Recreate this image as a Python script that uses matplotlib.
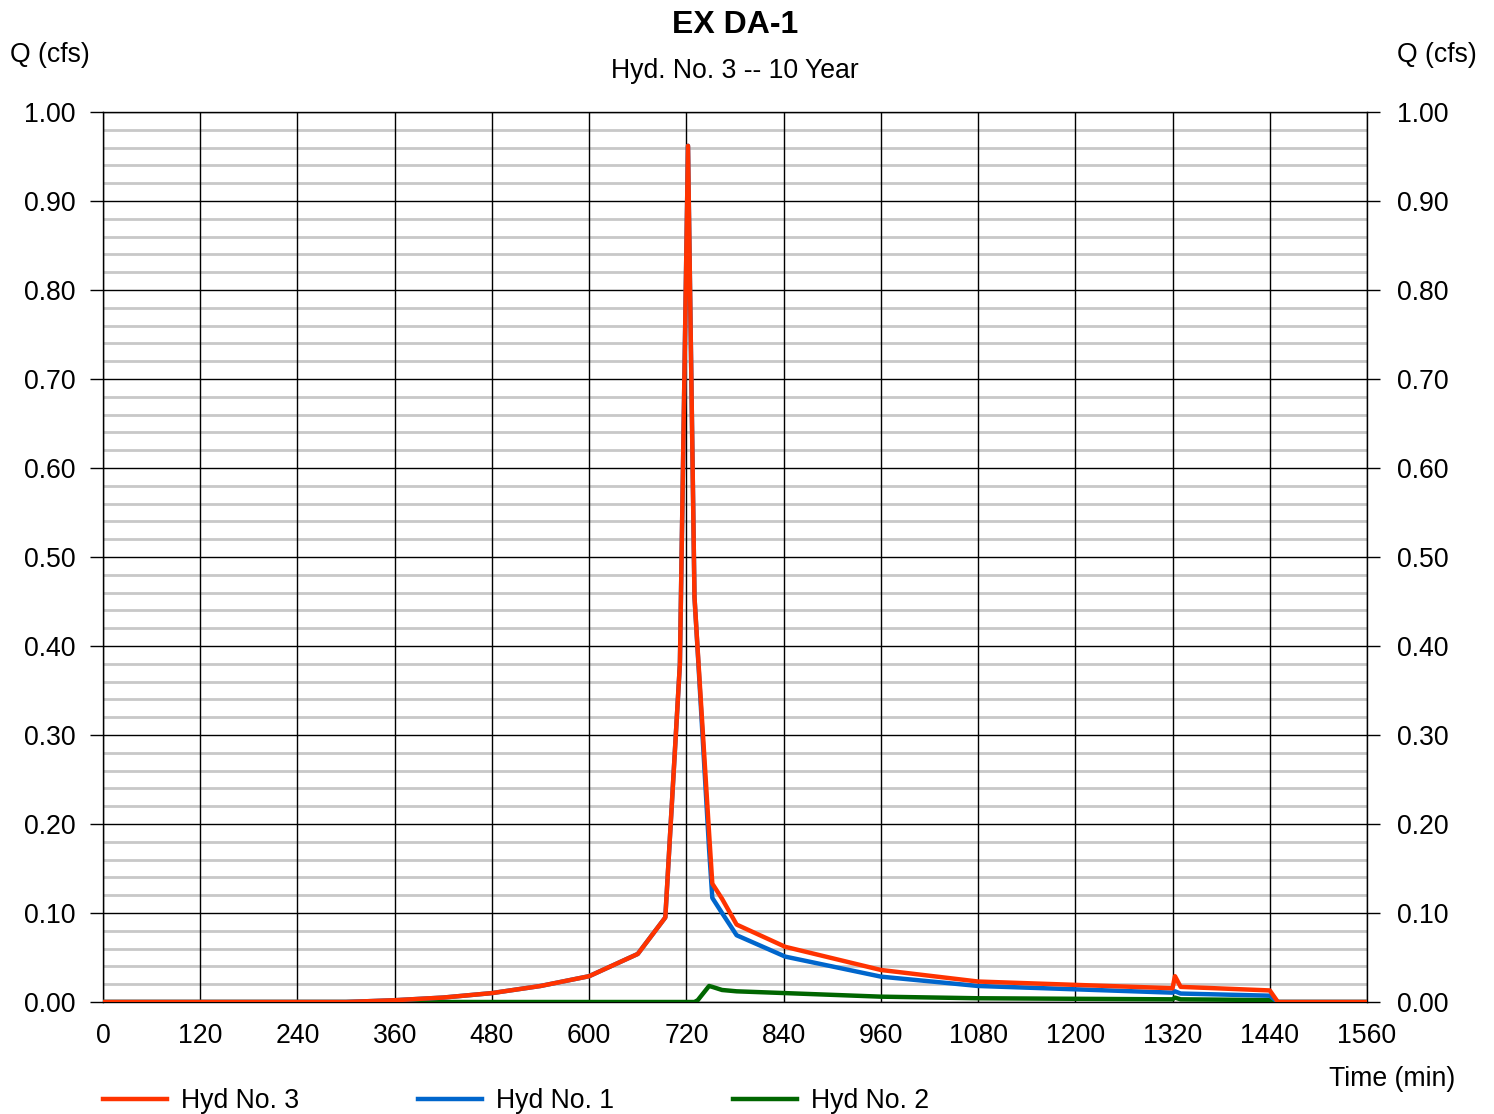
import matplotlib
matplotlib.use("Agg")
import matplotlib.pyplot as plt
from matplotlib.ticker import MultipleLocator, FormatStrFormatter

plt.rcParams['font.family'] = ['Liberation Sans', 'DejaVu Sans']

# Hydrograph ordinates (time in minutes, flow in cfs)
time_min = [0, 300, 360, 420, 480, 540, 600, 660, 694, 712, 722, 730, 734,
            748, 752, 764, 782, 842, 960, 1080, 1320, 1323, 1330, 1440, 1450, 1560]
hyd3 = [0, 0, 0.002, 0.005, 0.010, 0.018, 0.029, 0.054, 0.095, 0.380, 0.962,
        0.455, 0.395, 0.190, 0.133, 0.116, 0.087, 0.062, 0.036, 0.023, 0.0155,
        0.029, 0.017, 0.013, 0, 0]
hyd1 = [0, 0, 0.002, 0.005, 0.010, 0.018, 0.029, 0.054, 0.095, 0.380, 0.962,
        0.455, 0.393, 0.172, 0.117, 0.100, 0.075, 0.051, 0.0285, 0.018, 0.0105,
        0.012, 0.0095, 0.0071, 0, 0]
hyd2 = [0, 0, 0, 0, 0, 0, 0, 0, 0, 0, 0, 0, 0.002, 0.018, 0.017, 0.0135,
        0.012, 0.0100, 0.0060, 0.0042, 0.0030, 0.0049, 0.0030, 0.0022, 0, 0]

series_labels = ["Hyd No. 3", "Hyd No. 1", "Hyd No. 2"]
series_colors = ["#FF3300", "#0066CC", "#006600"]

x_ticks = list(range(0, 1561, 120))
title = "EX DA-1"
subtitle = "Hyd. No. 3 -- 10 Year"

FS = 19.2
W, H = 1494, 1114
fig = plt.figure(figsize=(W / 100, H / 100), dpi=100)
ax = fig.add_axes([103 / W, 1 - 1002 / H, (1367 - 103) / W, (1002 - 112) / H])

ax.set_xlim(0, 1560)
ax.set_ylim(0, 1.0)
ax.set_xticks(x_ticks)
ax.yaxis.set_major_locator(MultipleLocator(0.1))
ax.yaxis.set_minor_locator(MultipleLocator(0.02))
ax.yaxis.set_major_formatter(FormatStrFormatter('%.2f'))

# light minor lines underneath, black major grid on top of them
ax.grid(which='minor', axis='y', color='#c8c8c8', linewidth=2.0, zorder=0)
for xv in x_ticks:
    ax.axvline(xv, color='black', linewidth=1.0, zorder=1.5)
for yv in ax.get_yticks():
    if 0 <= yv <= 1.0:
        ax.axhline(yv, color='black', linewidth=1.0, zorder=1.5)
ax.set_axisbelow(True)

ax.tick_params(axis='y', which='major', length=9.5, width=1.0, pad=10,
               labelsize=FS, direction='out', colors='black')
ax.tick_params(axis='y', which='minor', length=0)
ax.tick_params(axis='x', which='major', length=0, pad=15, labelsize=FS)
for s in ax.spines.values():
    s.set_color('black')
    s.set_linewidth(1.0)

lines = {}
for t, y, lab, c, z in [(time_min, hyd2, series_labels[2], series_colors[2], 3),
                        (time_min, hyd1, series_labels[1], series_colors[1], 4),
                        (time_min, hyd3, series_labels[0], series_colors[0], 5)]:
    ln, = ax.plot(t, y, color=c, linewidth=3.2, label=lab, zorder=z,
                  solid_joinstyle='round')
    lines[lab] = ln

axr = ax.twinx()
axr.set_ylim(0, 1.0)
axr.yaxis.set_major_locator(MultipleLocator(0.1))
axr.yaxis.set_major_formatter(FormatStrFormatter('%.2f'))
axr.tick_params(axis='y', which='major', length=9.5, width=1.0, pad=12,
                labelsize=FS, direction='out')
axr.tick_params(axis='y', which='minor', length=0)
for s in axr.spines.values():
    s.set_visible(False)

fig.text(735 / W, 1 - 25 / H, title, ha='center', va='center',
         fontsize=23, fontweight='bold')
fig.text(735 / W, 1 - 71 / H, subtitle, ha='center', va='center', fontsize=FS)
fig.text(10 / W, 1 - 55 / H, "Q (cfs)", ha='left', va='center', fontsize=FS)
fig.text(1477 / W, 1 - 55 / H, "Q (cfs)", ha='right', va='center', fontsize=FS)
fig.text(1455 / W, 1 - 1079 / H, "Time (min)", ha='right', va='center', fontsize=FS)

handles = [lines[l] for l in series_labels]
fig.legend(handles, series_labels, loc='center left',
           bbox_to_anchor=(103 / W, 1 - 1101 / H), ncol=3, frameon=False,
           fontsize=FS, handlelength=2.4, handletextpad=0.53,
           columnspacing=4.45, borderpad=0, borderaxespad=0)

fig.savefig("out.png", dpi=100)
